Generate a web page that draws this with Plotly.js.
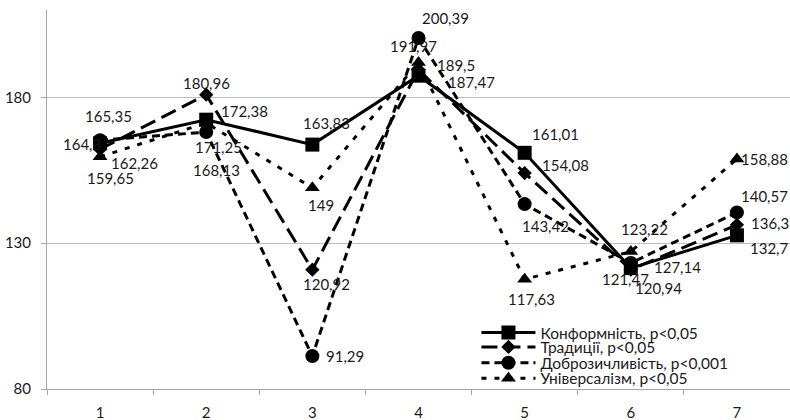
<!DOCTYPE html>
<html>
<head>
<meta charset="utf-8">
<script src="https://cdn.plot.ly/plotly-3.0.1.min.js"></script>
<style>html,body{margin:0;padding:0;background:#fff;}#chart{width:790px;height:420px;}</style>
</head>
<body>
<div id="chart"></div>
<script>
// ---- data ----
const categories = ['1', '2', '3', '4', '5', '6', '7'];
const seriesNames = ['Конформність, p<0,05', 'Традиції, p<0,05', 'Доброзичливість, p<0,001', 'Універсалізм, p<0,05'];
const konformnist = [164.3, 172.38, 163.83, 187.47, 161.01, 121.47, 132.7];
const tradytsii = [162.26, 180.96, 120.92, 189.5, 154.08, 120.94, 136.3];
const dobrozychlyvist = [165.35, 168.13, 91.29, 200.39, 143.42, 123.22, 140.57];
const universalizm = [159.65, 171.25, 149, 191.97, 117.63, 127.14, 158.88];
const yTicks = [80, 130, 180];

// ---- styles ----
const FONT = 'Lato, "Open Sans", "Noto Sans", sans-serif';
const TXT = '#1a1a1a';
const AX = '#a6a6a6';
const styles = [
  {dash: 'solid', symbol: 'square', size: 14},
  {dash: '16px,7px', symbol: 'diamond', size: 11},
  {dash: '8px,5px', symbol: 'circle', size: 14},
  {dash: '5px,8px', symbol: 'triangle-up', size: 13}
];
// label offsets in px [dx, dy(screen, down positive)]
const labelOffsets = [
  [[-18, 1], [38, -9], [14, -22], [53, 6], [31, -19], [-5, 11], [33, 13]],
  [[34, 14], [0, -12], [14, 14], [37, -5], [41, -8], [28, 18], [33, -2]],
  [[8, -24], [10, 38], [33, 0], [27, -20], [21, 22], [14, -34], [28, -16]],
  [[10, 21], [12, 24], [9, 17], [-5, -17], [7, 20], [47, 15], [28, 0]]
];
const legendRowsY = [0.148, 0.110, 0.068, 0.027];

const allSeries = [konformnist, tradytsii, dobrozychlyvist, universalizm];
const legendIds = ['legend', 'legend2', 'legend3', 'legend4'];

const fmt = v => String(v).replace('.', ',');

const traces = allSeries.map((vals, s) => ({
  type: 'scatter',
  mode: 'lines+markers',
  name: seriesNames[s],
  x: categories,
  y: vals,
  legend: legendIds[s],
  line: {color: '#000', width: 3, dash: styles[s].dash},
  marker: {color: '#000', symbol: styles[s].symbol, size: styles[s].size},
  cliponaxis: false,
  hoverinfo: 'skip'
}));

const annotations = [];
allSeries.forEach((vals, s) => {
  vals.forEach((v, i) => {
    annotations.push({
      x: i, y: v, xref: 'x', yref: 'y',
      text: fmt(v), showarrow: false,
      xshift: labelOffsets[s][i][0], yshift: -labelOffsets[s][i][1],
      font: {family: FONT, size: 15, color: TXT}
    });
  });
});

const layout = {
  width: 790, height: 420,
  margin: {l: 47, r: 0, t: 10, b: 31, pad: 0},
  paper_bgcolor: '#fff', plot_bgcolor: '#fff',
  font: {family: FONT, size: 15, color: TXT},
  xaxis: {
    type: 'category', range: [-0.5, 6.5], tickson: 'boundaries',
    ticks: 'outside', ticklen: 5, tickcolor: AX, tickwidth: 1,
    showline: true, linecolor: AX, linewidth: 1,
    showgrid: false, zeroline: false, fixedrange: true,
    tickfont: {family: FONT, size: 15, color: TXT}, ticklabelstandoff: 10
  },
  yaxis: {
    range: [80, 210], tickvals: yTicks, ticktext: yTicks.map(String),
    ticks: 'outside', ticklen: 5, tickcolor: AX, tickwidth: 1,
    showline: true, linecolor: AX, linewidth: 1,
    showgrid: true, gridcolor: '#bfbfbf', gridwidth: 1, zeroline: false,
    tickfont: {family: FONT, size: 15, color: TXT}, ticklabelstandoff: 7
  },
  annotations: annotations,
  showlegend: true
};
legendIds.forEach((id, k) => {
  layout[id] = {
    x: 0.578, y: legendRowsY[k], xanchor: 'left', yanchor: 'middle',
    bgcolor: 'rgba(0,0,0,0)', borderwidth: 0, itemwidth: 54,
    font: {family: FONT, size: 15.5, color: TXT}
  };
});

Plotly.newPlot('chart', traces, layout, {staticPlot: true, displayModeBar: false});
</script>
</body>
</html>
